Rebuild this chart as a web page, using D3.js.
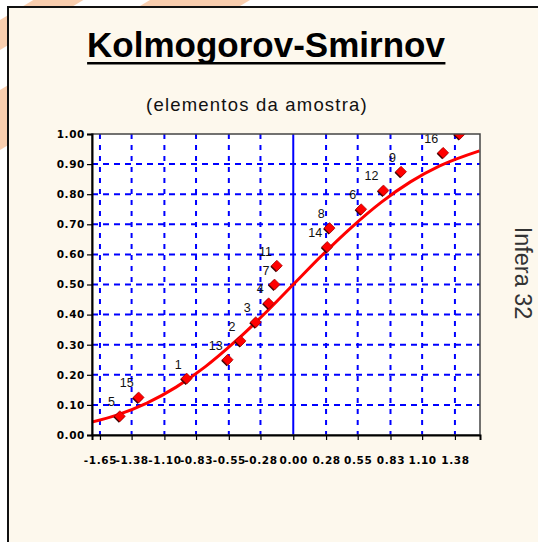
<!DOCTYPE html>
<html>
<head>
<meta charset="utf-8">
<script src="https://cdn.jsdelivr.net/npm/d3@7"></script>
<style>
  body { margin: 0; background: #ffffff; }
  svg { display: block; }
</style>
</head>
<body>
<div id="chart"></div>
<script>
// sample elements (id, standardized value, empirical F)
var sampleIds = [5, 15, 1, 13, 2, 3, 4, 7, 11, 14, 8, 6, 12, 9, 16, 10];
var zValues = [-1.48, -1.32, -0.91, -0.56, -0.45, -0.32, -0.21, -0.16, -0.14, 0.29, 0.31, 0.58, 0.77, 0.92, 1.28, 1.42];
var empiricalF = [0.0625, 0.125, 0.1875, 0.25, 0.3125, 0.375, 0.4375, 0.5, 0.5625, 0.625, 0.6875, 0.75, 0.8125, 0.875, 0.9375, 1.0];

// theoretical curve
var curveX = [-1.72, -1.5, -1.25, -1.0, -0.75, -0.5, -0.25, 0.0, 0.25, 0.5, 0.75, 1.0, 1.25, 1.59];
var curveY = [0.043, 0.067, 0.106, 0.159, 0.227, 0.309, 0.401, 0.5, 0.599, 0.691, 0.773, 0.841, 0.894, 0.944];

var xTickLabels = ["-1.65", "-1.38", "-1.10", "-0.83", "-0.55", "-0.28", "0.00", "0.28", "0.55", "0.83", "1.10", "1.38"];
var yTickLabels = ["0.00", "0.10", "0.20", "0.30", "0.40", "0.50", "0.60", "0.70", "0.80", "0.90", "1.00"];

var W = 538, H = 542;
var plot = { left: 92, top: 134, right: 480, bottom: 435 };

var svg = d3.select("#chart").append("svg")
    .attr("width", W)
    .attr("height", H);

// orange stripes behind the panel (only the edges show)
var stripes = [[20, 50], [90, 150]];
stripes.forEach(function (s) {
    svg.append("polygon")
        .attr("points", [[0, s[0]], [s[0] / 0.6, 0], [s[1] / 0.6, 0], [0, s[1]]].join(" "))
        .attr("fill", "#f7c29a")
        .attr("opacity", 0.8);
});

// panel
svg.append("rect")
    .attr("x", 8).attr("y", 7)
    .attr("width", W + 20).attr("height", H + 20)
    .attr("fill", "#fdf8ed")
    .attr("stroke", "#111")
    .attr("stroke-width", 2);

// title
var title = svg.append("text")
    .attr("x", 266).attr("y", 57)
    .attr("text-anchor", "middle")
    .style("font-family", "'Liberation Sans', Arial, sans-serif")
    .style("font-weight", "bold")
    .style("font-size", "35px")
    .attr("fill", "#000")
    .text("Kolmogorov-Smirnov");
var tb = title.node().getBBox();
svg.append("rect")
    .attr("x", tb.x).attr("y", 62)
    .attr("width", tb.width).attr("height", 2.5)
    .attr("fill", "#000");

svg.append("text")
    .attr("x", 257).attr("y", 111)
    .attr("text-anchor", "middle")
    .style("font-family", "'Liberation Sans', Arial, sans-serif")
    .style("font-size", "18.5px")
    .style("letter-spacing", "1.2px")
    .attr("fill", "#111")
    .text("(elementos da amostra)");

svg.append("text")
    .attr("transform", "translate(515,273) rotate(90)")
    .attr("text-anchor", "middle")
    .style("font-family", "'Liberation Sans', Arial, sans-serif")
    .style("font-size", "23.5px")
    .attr("fill", "#333")
    .text("Infera 32");

// scales
var xScale = d3.scaleLinear()
    .domain([-1.718, 1.594])
    .range([plot.left, plot.right]);

var yScale = d3.scaleLinear()
    .domain([0, 1])
    .range([plot.bottom, plot.top]);

var xTicks = xTickLabels.map(Number);
var yTicks = yTickLabels.map(Number);

svg.append("defs").append("clipPath")
    .attr("id", "clip")
    .append("rect")
    .attr("x", plot.left).attr("y", plot.top)
    .attr("width", plot.right - plot.left)
    .attr("height", plot.bottom - plot.top);

// plot background
svg.append("rect")
    .attr("x", plot.left).attr("y", plot.top)
    .attr("width", plot.right - plot.left)
    .attr("height", plot.bottom - plot.top)
    .attr("fill", "#fff");

var g = svg.append("g").attr("clip-path", "url(#clip)");

// grid
g.selectAll(".vgrid")
    .data(xTicks)
    .enter()
    .append("line")
    .attr("x1", function (d) { return xScale(d); })
    .attr("x2", function (d) { return xScale(d); })
    .attr("y1", plot.top).attr("y2", plot.bottom)
    .attr("stroke", "#0000ff")
    .attr("stroke-width", 2)
    .attr("stroke-dasharray", function (d) { return d === 0 ? null : "5,6"; });

g.selectAll(".hgrid")
    .data(yTicks.slice(1, -1))
    .enter()
    .append("line")
    .attr("x1", plot.left).attr("x2", plot.right)
    .attr("y1", function (d) { return yScale(d); })
    .attr("y2", function (d) { return yScale(d); })
    .attr("stroke", "#0000ff")
    .attr("stroke-width", 2)
    .attr("stroke-dasharray", "6,5");

// theoretical curve
var line = d3.line()
    .x(function (d, i) { return xScale(curveX[i]); })
    .y(function (d) { return yScale(d); })
    .curve(d3.curveMonotoneX);

g.append("path")
    .datum(curveY)
    .attr("d", line)
    .attr("fill", "none")
    .attr("stroke", "#ff0000")
    .attr("stroke-width", 3);

// sample points
var pts = g.selectAll(".pt")
    .data(zValues)
    .enter()
    .append("g")
    .attr("transform", function (d, i) {
        return "translate(" + xScale(d) + "," + yScale(empiricalF[i]) + ")";
    });

pts.append("path")
    .attr("d", "M0,-5.5L5.5,0L0,5.5L-5.5,0Z")
    .attr("transform", "translate(-1,1)")
    .attr("fill", "#3a0000");

pts.append("path")
    .attr("d", "M0,-5.5L5.5,0L0,5.5L-5.5,0Z")
    .attr("fill", "#ff0000")
    .attr("stroke", "#900")
    .attr("stroke-width", 0.6);

pts.append("text")
    .attr("x", -5).attr("y", -10)
    .attr("text-anchor", "end")
    .style("font-family", "'Liberation Sans', Arial, sans-serif")
    .style("font-size", "12.5px")
    .attr("fill", "#111")
    .text(function (d, i) { return sampleIds[i]; });

// frame
svg.append("rect")
    .attr("x", plot.left).attr("y", plot.top)
    .attr("width", plot.right - plot.left)
    .attr("height", plot.bottom - plot.top)
    .attr("fill", "none")
    .attr("stroke", "#444")
    .attr("stroke-width", 1.5);

// axes
var xAxis = d3.axisBottom(xScale)
    .tickValues(xTicks)
    .tickFormat(function (d, i) { return xTickLabels[i]; })
    .tickSize(5)
    .tickPadding(17);

var yAxis = d3.axisLeft(yScale)
    .tickValues(yTicks)
    .tickFormat(function (d, i) { return yTickLabels[i]; })
    .tickSize(5)
    .tickPadding(2);

var gx = svg.append("g")
    .attr("transform", "translate(0," + plot.bottom + ")")
    .call(xAxis);

var gy = svg.append("g")
    .attr("transform", "translate(" + plot.left + ",0)")
    .call(yAxis);

[gx, gy].forEach(function (a) {
    a.select(".domain").attr("stroke", "#000").attr("stroke-width", 2);
    a.selectAll(".tick line").attr("stroke", "#000").attr("stroke-width", 1.2);
    a.selectAll(".tick text")
        .style("font-family", "'DejaVu Sans', sans-serif")
        .style("font-weight", "bold")
        .style("font-size", "10.5px")
        .style("letter-spacing", "0.6px")
        .attr("fill", "#000");
});
</script>
</body>
</html>
